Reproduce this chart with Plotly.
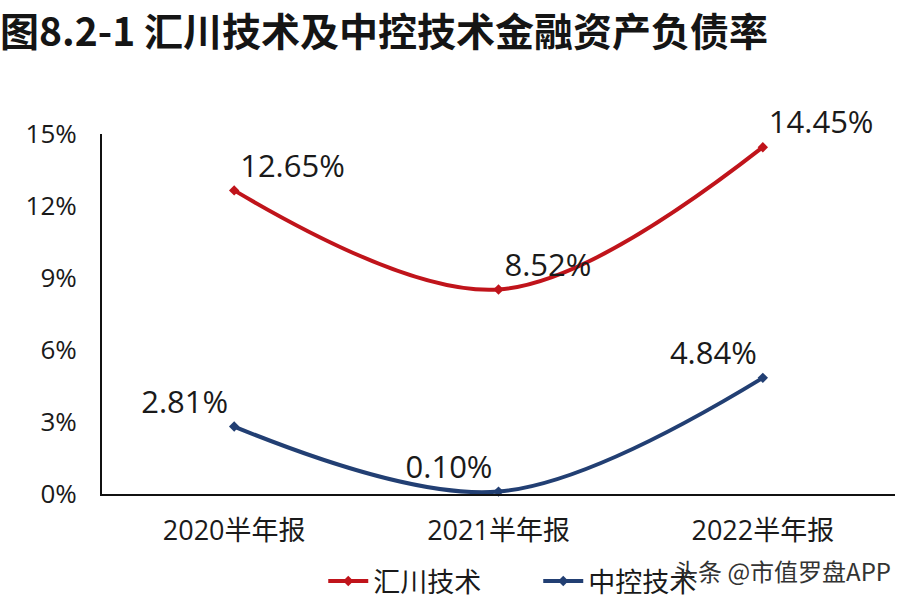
import plotly.graph_objects as go

categories = ["2020半年报", "2021半年报", "2022半年报"]
huichuan = [12.65, 8.52, 14.45]
zhongkong = [2.81, 0.10, 4.84]
y_ticks = [0, 3, 6, 9, 12, 15]
y_tick_labels = ["0%", "3%", "6%", "9%", "12%", "15%"]
series_names = ["汇川技术", "中控技术"]
title_text = "图8.2-1 汇川技术及中控技术金融资产负债率"
watermark = "头条 @市值罗盘APP"

RED = "#C0141B"
BLUE = "#223F73"
FONT = "Open Sans, Noto Sans CJK SC, sans-serif"

fig = go.Figure()

label_pos_h = ["top right", "top right", "top right"]
label_pos_z = ["top left", "top left", "top left"]

fig.add_trace(go.Scatter(
    x=categories, y=huichuan, name=series_names[0],
    mode="lines+markers+text",
    line=dict(color=RED, width=4, shape="spline", smoothing=1),
    marker=dict(symbol="diamond", size=8, color=RED),
    text=[f"{v:.2f}%" for v in huichuan],
    textposition=label_pos_h,
    textfont=dict(size=31, color="#1a1a1a", family=FONT),
    cliponaxis=False,
))
fig.add_trace(go.Scatter(
    x=categories, y=zhongkong, name=series_names[1],
    mode="lines+markers+text",
    line=dict(color=BLUE, width=4, shape="spline", smoothing=1),
    marker=dict(symbol="diamond", size=8, color=BLUE),
    text=[f"{v:.2f}%" for v in zhongkong],
    textposition=label_pos_z,
    textfont=dict(size=31, color="#1a1a1a", family=FONT),
    cliponaxis=False,
))

fig.update_layout(
    width=906, height=602,
    paper_bgcolor="white", plot_bgcolor="white",
    margin=dict(l=102, r=11, t=134, b=108, autoexpand=False),
    showlegend=True,
    legend=dict(orientation="h", x=0.279, xanchor="left", y=-0.175, yanchor="top",
                font=dict(size=27, color="#1a1a1a", family="Noto Sans CJK SC"),
                itemwidth=40, entrywidth=160, entrywidthmode="pixels",
                tracegroupgap=0, traceorder="normal"),
    title=dict(text=title_text, x=0.0, xanchor="left", y=0.947, yanchor="middle",
               pad=dict(l=0, t=0, b=0, r=0),
               font=dict(size=39, color="#151515", family="Noto Sans CJK SC", weight="bold")),
    font=dict(family=FONT, color="#1a1a1a"),
)
fig.update_xaxes(
    showline=True, linecolor="#111111", linewidth=2, showgrid=False,
    ticks="", tickfont=dict(size=27, family="Open Sans, Noto Sans CJK SC", color="#1a1a1a"),
    range=[-0.5, 2.5], fixedrange=True, automargin=False, ticklabelstandoff=12,
)
fig.update_yaxes(
    showline=True, linecolor="#111111", linewidth=2, showgrid=False, zeroline=False,
    ticks="", range=[0, 15], tickvals=y_ticks, ticktext=y_tick_labels,
    tickfont=dict(size=26, family=FONT, color="#1a1a1a"), ticklabelstandoff=18,
    automargin=False,
)
fig.add_annotation(
    text=watermark, xref="paper", yref="paper", x=0.998, y=-0.212, xanchor="right", yanchor="middle",
    showarrow=False, font=dict(size=24, color="#333333", family="Noto Sans CJK SC"),
)

fig.write_html("out.html", config={"displayModeBar": False},
               post_script="document.body.style.margin='0';")
